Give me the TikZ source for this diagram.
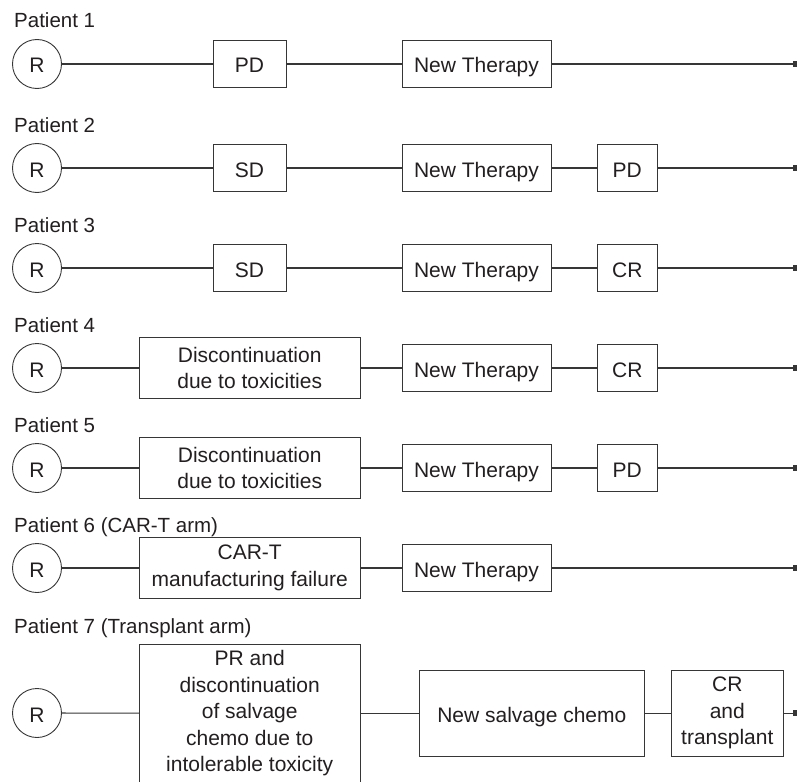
\documentclass[tikz,border=0pt]{standalone}
\usepackage{fontspec}
\setmainfont{Liberation Sans}
\usetikzlibrary{arrows.meta}
\definecolor{ink}{HTML}{231F20}
\definecolor{rule}{HTML}{363636}
\tikzset{
  every node/.style={text=ink},
  conn/.style={draw=rule, line width=1.1pt},
  endconn/.style={conn, -{Square[length=4pt,width=6pt]}},
  oneline/.style={text height=18pt, text depth=0pt},
  rnode/.style={circle, draw=rule, line width=0.9pt, minimum size=49pt, inner sep=0pt,
    font=\fontsize{21}{26.5}\selectfont, oneline},
  boxnode/.style={rectangle, draw=rule, line width=0.9pt, inner sep=0pt, align=center,
    font=\fontsize{21}{26.5}\selectfont},
  plabel/.style={anchor=base west, inner sep=0pt, font=\fontsize{20.5}{24}\selectfont},
}
\begin{document}
\begin{tikzpicture}[x=1pt,y=-1pt]
\clip (0,0) rectangle (797,781);
\fill[white] (0,0) rectangle (797,781);

% ---------- Patient 1
\node[plabel] (l1) at (14,28) {Patient 1};
\node[rnode] (r1) at (37,64) {R};
\node[boxnode, oneline, minimum width=73pt, minimum height=46.5pt] (a1) at (249.5,64) {PD};
\node[boxnode, oneline, minimum width=149pt, minimum height=46.5pt] (b1) at (476.5,64) {New Therapy};
\coordinate (e1) at (796.5,64);
\draw[conn] (r1) -- (a1);
\draw[conn] (a1) -- (b1);
\draw[endconn] (b1) -- (e1);

% ---------- Patient 2
\node[plabel] (l2) at (14,132) {Patient 2};
\node[rnode] (r2) at (37,168) {R};
\node[boxnode, oneline, minimum width=73pt, minimum height=46.5pt] (a2) at (249.5,168) {SD};
\node[boxnode, oneline, minimum width=149pt, minimum height=46.5pt] (b2) at (476.5,168) {New Therapy};
\node[boxnode, oneline, minimum width=60pt, minimum height=46.5pt] (c2) at (627.3,168) {PD};
\coordinate (e2) at (796.5,168);
\draw[conn] (r2) -- (a2);
\draw[conn] (a2) -- (b2);
\draw[conn] (b2) -- (c2);
\draw[endconn] (c2) -- (e2);

% ---------- Patient 3
\node[plabel] (l3) at (14,232) {Patient 3};
\node[rnode] (r3) at (37,268) {R};
\node[boxnode, oneline, minimum width=73pt, minimum height=46.5pt] (a3) at (249.5,268) {SD};
\node[boxnode, oneline, minimum width=149pt, minimum height=46.5pt] (b3) at (476.5,268) {New Therapy};
\node[boxnode, oneline, minimum width=60pt, minimum height=46.5pt] (c3) at (627.3,268) {CR};
\coordinate (e3) at (796.5,268);
\draw[conn] (r3) -- (a3);
\draw[conn] (a3) -- (b3);
\draw[conn] (b3) -- (c3);
\draw[endconn] (c3) -- (e3);

% ---------- Patient 4
\node[plabel] (l4) at (14,332) {Patient 4};
\node[rnode] (r4) at (37,368) {R};
\node[boxnode, minimum width=220.7pt, minimum height=61pt] (a4) at (249.7,368) {Discontinuation\\due to toxicities};
\node[boxnode, oneline, minimum width=149pt, minimum height=46.5pt] (b4) at (476.5,368) {New Therapy};
\node[boxnode, oneline, minimum width=60pt, minimum height=46.5pt] (c4) at (627.3,368) {CR};
\coordinate (e4) at (796.5,368);
\draw[conn] (r4) -- (a4);
\draw[conn] (a4) -- (b4);
\draw[conn] (b4) -- (c4);
\draw[endconn] (c4) -- (e4);

% ---------- Patient 5
\node[plabel] (l5) at (14,432) {Patient 5};
\node[rnode] (r5) at (37,468) {R};
\node[boxnode, minimum width=220.7pt, minimum height=61pt] (a5) at (249.7,468) {Discontinuation\\due to toxicities};
\node[boxnode, oneline, minimum width=149pt, minimum height=46.5pt] (b5) at (476.5,468) {New Therapy};
\node[boxnode, oneline, minimum width=60pt, minimum height=46.5pt] (c5) at (627.3,468) {PD};
\coordinate (e5) at (796.5,468);
\draw[conn] (r5) -- (a5);
\draw[conn] (a5) -- (b5);
\draw[conn] (b5) -- (c5);
\draw[endconn] (c5) -- (e5);

% ---------- Patient 6
\node[plabel] (l6) at (14,532) {Patient 6 (CAR-T arm)};
\node[rnode] (r6) at (37,568) {R};
\node[boxnode, minimum width=220.7pt, minimum height=60.6pt] (a6) at (249.7,568) {CAR-T\\manufacturing failure};
\node[boxnode, oneline, minimum width=149pt, minimum height=46.5pt] (b6) at (476.5,568) {New Therapy};
\coordinate (e6) at (796.5,568);
\draw[conn] (r6) -- (a6);
\draw[conn] (a6) -- (b6);
\draw[endconn] (b6) -- (e6);

% ---------- Patient 7
\node[plabel] (l7) at (14,633) {Patient 7 (Transplant arm)};
\node[rnode] (r7) at (37,713) {R};
\node[boxnode, minimum width=220.7pt, minimum height=138pt] (a7) at (249.7,713.3)
  {PR and\\discontinuation\\of salvage\\chemo due to\\intolerable toxicity};
\node[boxnode, oneline, minimum width=225pt, minimum height=85.3pt] (b7) at (531.8,713.3) {New salvage chemo};
\node[boxnode, minimum width=112pt, minimum height=85.3pt] (c7) at (727.3,713.3) {CR\\and\\transplant};
\coordinate (e7) at (796.5,713.3);
\draw[conn] (r7) -- (a7);
\draw[conn] (a7) -- (b7);
\draw[conn] (b7) -- (c7);
\draw[endconn] (c7) -- (e7);
\end{tikzpicture}
\end{document}
